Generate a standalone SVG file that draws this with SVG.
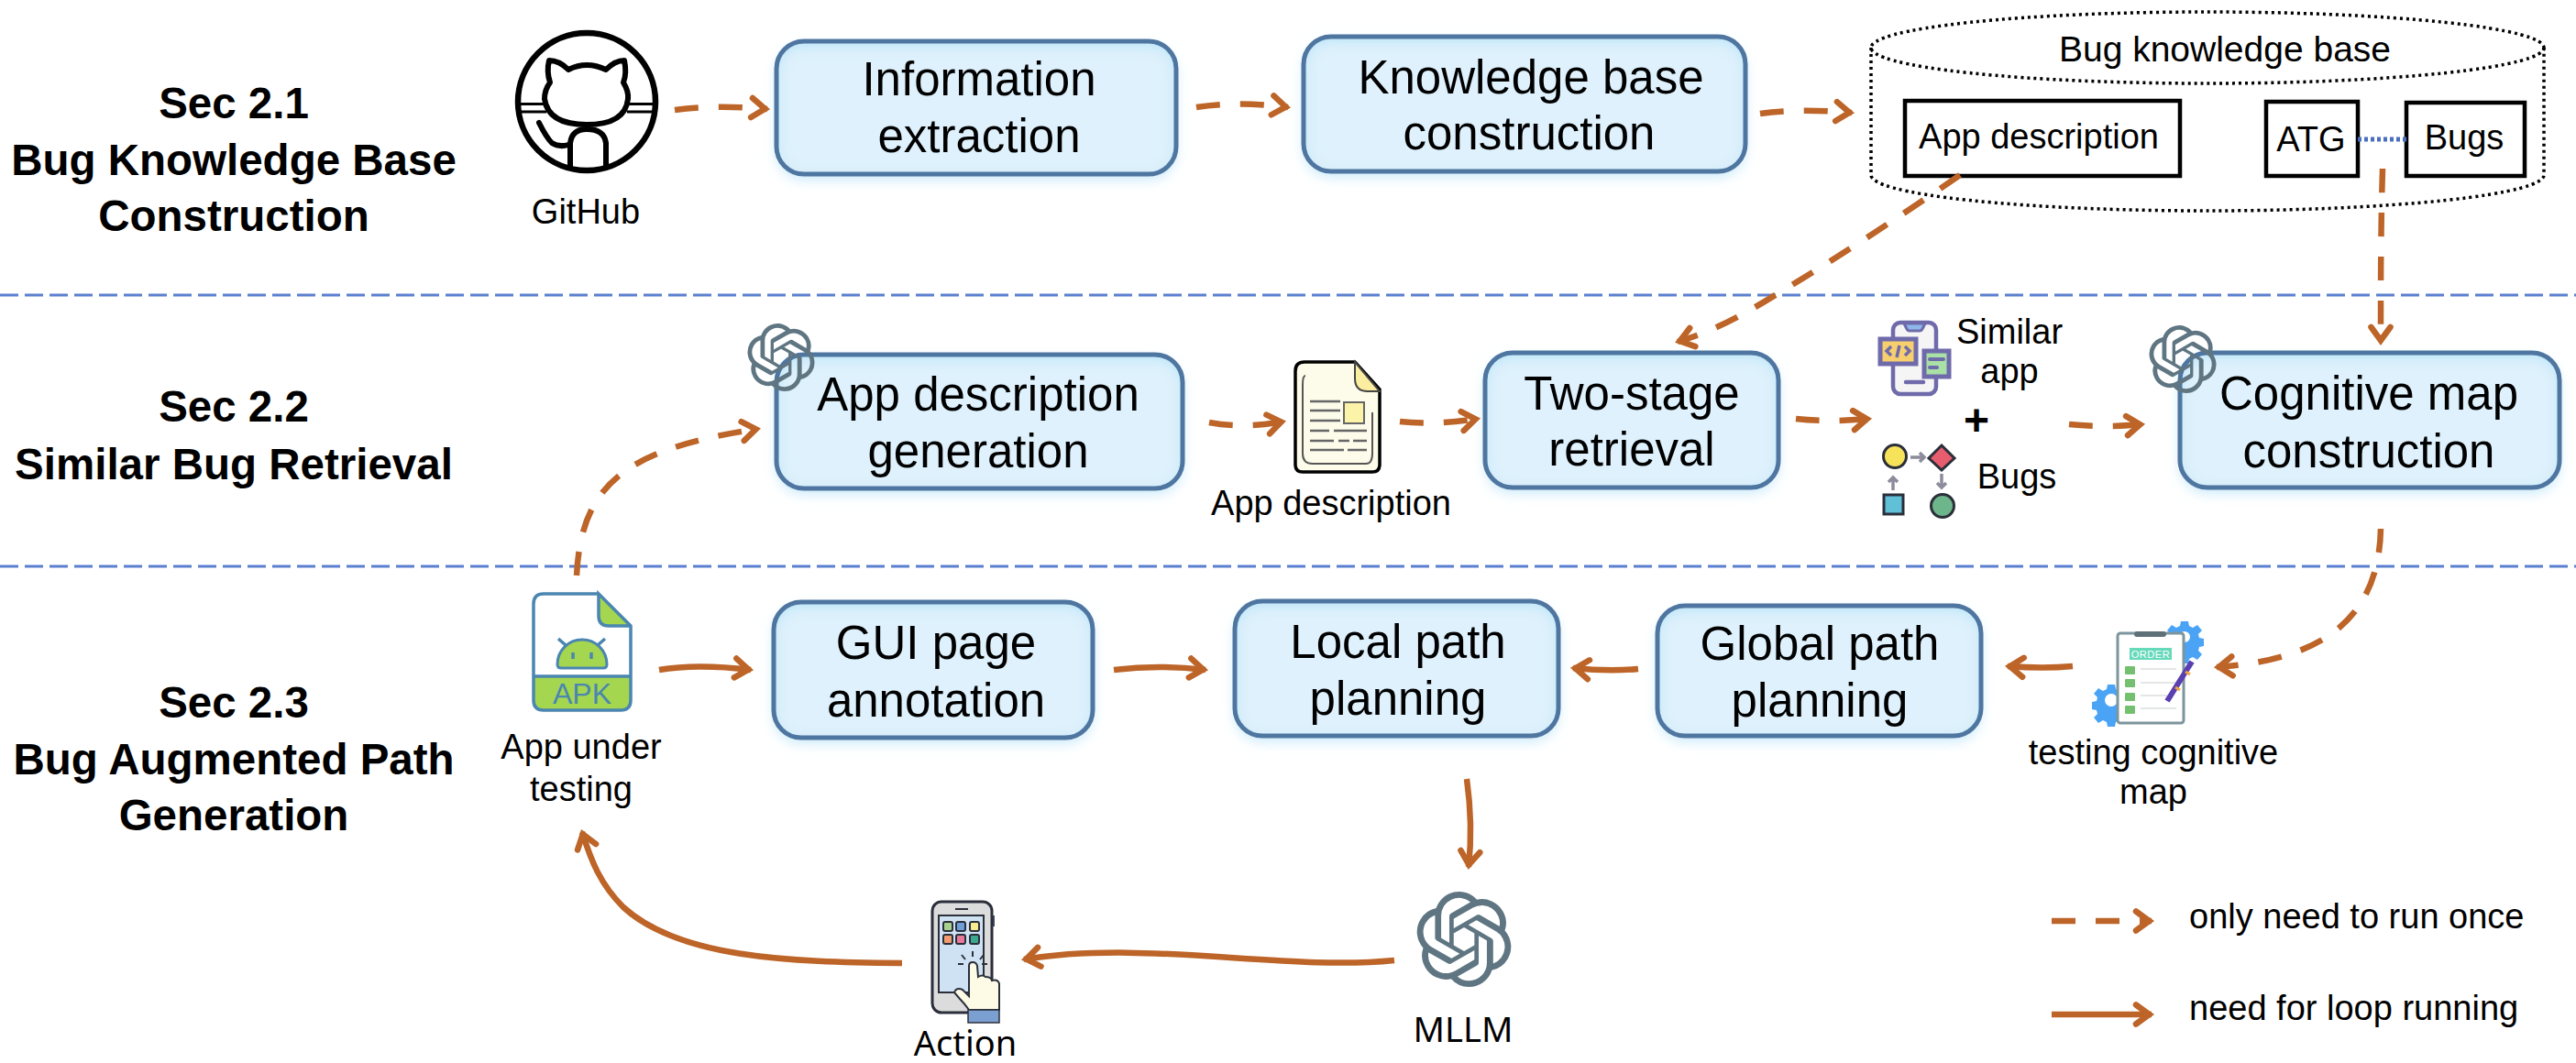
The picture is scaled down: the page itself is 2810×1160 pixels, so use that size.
<svg xmlns="http://www.w3.org/2000/svg" width="2810" height="1160" viewBox="0 0 2810 1160">
<style>
text{font-family:"Liberation Sans",Arial,sans-serif;fill:#000;text-anchor:middle}
.sec{font-size:47.500px;font-weight:bold}
.big{font-size:51px}
.sm{font-size:38px}
.nt{font-family:"Noto Sans",sans-serif;font-size:38px}
.leg{text-anchor:start;font-size:38px}
.bf{fill:#def1fc;filter:url(#boxfx)}
.be{fill:none;stroke:#4f76a0;stroke-width:5}
.kb{fill:#fff;stroke:#000;stroke-width:4.500}
.cyl{fill:none;stroke:#000;stroke-width:3.500;stroke-dasharray:3 4}
.div{stroke:#5b7fd0;stroke-width:3;stroke-dasharray:20 7;fill:none}
.d,.s{fill:none;stroke:#bd6428;stroke-width:6.500;marker-end:url(#ah)}
.d{stroke-dasharray:26 22}
.ic{fill:none;stroke:#6f6bab;stroke-width:4}
.dk{stroke:#2b2f3a;stroke-width:3}
.gr{stroke:#666;stroke-width:2.5;fill:none}
.pale{stroke:#e4e6e6;stroke-width:2;fill:none}
.apk{stroke:#4a86b0;stroke-width:3.5;fill:none}
.gh{fill:none;stroke:#000;stroke-width:6;stroke-linecap:round;stroke-linejoin:round}
</style>
<defs>
<marker id="ah" markerUnits="userSpaceOnUse" markerWidth="40" markerHeight="40" viewBox="-30 -20 40 40" refX="0" refY="0" orient="auto" overflow="visible">
<path d="M-17 -10.500L-2.500 0L-17 10.500" fill="none" stroke="#bd6428" stroke-width="6.500" stroke-linecap="round" stroke-linejoin="miter"/>
</marker>
<filter id="boxfx" x="-10%" y="-15%" width="120%" height="140%">
<feGaussianBlur in="SourceAlpha" stdDeviation="7"/><feOffset dy="6" result="o"/>
<feFlood flood-color="#bfe6f9" flood-opacity=".85"/><feComposite in2="o" operator="in" result="outer"/>
<feComponentTransfer in="SourceAlpha" result="inv"><feFuncA type="table" tableValues="1 0"/></feComponentTransfer>
<feGaussianBlur in="inv" stdDeviation="7"/><feOffset dy="4" result="ib"/>
<feFlood flood-color="#b4e3f8"/><feComposite in2="ib" operator="in"/><feComposite in2="SourceAlpha" operator="in" result="inner"/>
<feMerge><feMergeNode in="outer"/><feMergeNode in="SourceGraphic"/><feMergeNode in="inner"/></feMerge>
</filter>
<symbol id="oai" viewBox="0 0 24 24"><path fill="#5f7682" d="M22.2819 9.8211a5.9847 5.9847 0 0 0-.5157-4.9108 6.0462 6.0462 0 0 0-6.5098-2.9A6.0651 6.0651 0 0 0 4.9807 4.1818a5.9847 5.9847 0 0 0-3.9977 2.9 6.0462 6.0462 0 0 0 .7427 7.0966 5.98 5.98 0 0 0 .511 4.9107 6.051 6.051 0 0 0 6.5146 2.9001A5.9847 5.9847 0 0 0 13.2599 24a6.0557 6.0557 0 0 0 5.7718-4.2058 5.9894 5.9894 0 0 0 3.9977-2.9001 6.0557 6.0557 0 0 0-.7475-7.0729zm-9.022 12.6081a4.4755 4.4755 0 0 1-2.8764-1.0408l.1419-.0804 4.7783-2.7582a.7948.7948 0 0 0 .3927-.6813v-6.7369l2.02 1.1686a.071.071 0 0 1 .038.052v5.5826a4.504 4.504 0 0 1-4.4945 4.4944zm-9.6607-4.1254a4.4708 4.4708 0 0 1-.5346-3.0137l.142.0852 4.783 2.7582a.7712.7712 0 0 0 .7806 0l5.8428-3.3685v2.3324a.0804.0804 0 0 1-.0332.0615L9.74 19.9502a4.4992 4.4992 0 0 1-6.1408-1.6464zM2.3408 7.8956a4.485 4.485 0 0 1 2.3655-1.9728V11.6a.7664.7664 0 0 0 .3879.6765l5.8144 3.3543-2.0201 1.1685a.0757.0757 0 0 1-.071 0l-4.8303-2.7865A4.504 4.504 0 0 1 2.3408 7.872zm16.5963 3.8558L13.1038 8.364 15.1192 7.2a.0757.0757 0 0 1 .071 0l4.8303 2.7913a4.4944 4.4944 0 0 1-.6765 8.1042v-5.6772a.79.79 0 0 0-.407-.667zm2.0107-3.0231l-.142-.0852-4.7735-2.7818a.7759.7759 0 0 0-.7854 0L9.409 9.2297V6.8974a.0662.0662 0 0 1 .0284-.0615l4.8303-2.7866a4.4992 4.4992 0 0 1 6.6802 4.66zM8.3065 12.863l-2.02-1.1638a.0804.0804 0 0 1-.038-.0567V6.0742a4.4992 4.4992 0 0 1 7.3757-3.4537l-.142.0805L8.704 5.459a.7948.7948 0 0 0-.3927.6813zm1.0976-2.3654l2.602-1.4998 2.6069 1.4998v2.9994l-2.5974 1.4997-2.6067-1.4997Z"/></symbol>
<path id="gear" fill="#4aa3f5" d="M-4 -17h8l1 5 4 2 5 -3 5 6 -4 4 1 4 5 1v8l-5 1 -1 4 4 4 -5 6 -5 -3 -4 2 -1 5h-8l-1 -5 -4 -2 -5 3 -5 -6 4 -4 -1 -4 -5 -1v-8l5 -1 1 -4 -4 -4 5 -6 5 3 4 -2z"/>
</defs>

<rect width="2810" height="1160" fill="#fff"/>

<g id="dividers">
<line class="div" x1="0" y1="322" x2="2810" y2="322"/>
<line class="div" x1="0" y1="618" x2="2810" y2="618"/>
</g>

<g id="sec21"><text class="sec" x="255" y="129">Sec 2.1</text><text class="sec" x="255" y="191">Bug Knowledge Base</text><text class="sec" x="255" y="252">Construction</text></g>
<g id="sec22"><text class="sec" x="255" y="460">Sec 2.2</text><text class="sec" x="255" y="523">Similar Bug Retrieval</text></g>
<g id="sec23"><text class="sec" x="255" y="783">Sec 2.3</text><text class="sec" x="255" y="845">Bug Augmented Path</text><text class="sec" x="255" y="906">Generation</text></g>

<g id="github">
<circle cx="640" cy="111" r="75" fill="#fff" stroke="#000" stroke-width="6.500"/>
<path d="M568 113.500H594M568 122H596M685 113.500H713M684 122H713" stroke="#000" stroke-width="3"/>
<path class="gh" fill="#fff" d="M599 66Q610 66 620 76Q640 66 661 76Q671 66 681 66Q684 80 680 90Q686 100 685 108Q682 136 640 136Q598 136 594 108Q594 98 600 90Q596 78 599 66Z"/>
<path class="gh" d="M622 182V156Q624 141 640 141Q659 141 661 156V182"/>
<path class="gh" d="M588 134Q596 150 602 156Q610 161 620 158"/>
<text class="sm" x="639" y="244">GitHub</text>
</g>

<g id="info"><rect class="bf" x="847" y="45" width="436" height="145" rx="30"/><rect class="be" x="847" y="45" width="436" height="145" rx="30"/><text class="big" x="1068" y="104">Information</text><text class="big" x="1068" y="166">extraction</text></g>
<g id="kbc"><rect class="bf" x="1422" y="40" width="482" height="147" rx="30"/><rect class="be" x="1422" y="40" width="482" height="147" rx="30"/><text class="big" x="1670" y="102">Knowledge base</text><text class="big" x="1668" y="163">construction</text></g>

<g id="bugkb">
<ellipse class="cyl" cx="2408" cy="52" rx="367" ry="39"/>
<path class="cyl" d="M2041 52V191A367 39 0 0 0 2775 191V52"/>
<text x="2427" y="67" font-size="39">Bug knowledge base</text>
<rect class="kb" x="2078" y="110" width="300" height="82"/><text class="sm" x="2224" y="162">App description</text>
<rect class="kb" x="2472" y="111" width="100" height="81"/><text class="sm" x="2521" y="165">ATG</text>
<rect class="kb" x="2625" y="112" width="129" height="80"/><text class="sm" x="2688" y="163">Bugs</text>
<line x1="2572" y1="152" x2="2625" y2="152" stroke="#4a6fc0" stroke-width="5" stroke-dasharray="4 3"/>
</g>

<g id="appgen"><rect class="bf" x="847" y="387" width="443" height="146" rx="30"/><rect class="be" x="847" y="387" width="443" height="146" rx="30"/><text class="big" x="1067" y="448">App description</text><text class="big" x="1067" y="510">generation</text><use href="#oai" x="815" y="353" width="74" height="74"/></g>

<g id="doc">
<path d="M1423 395H1478L1505 425V507Q1505 515 1497 515H1421Q1413 515 1413 507V405Q1413 395 1423 395Z" fill="#fdfbea" stroke="#000" stroke-width="3.500"/>
<path d="M1478 395V413Q1478 427 1492 427H1505Z" fill="#fbeea0" stroke="#444" stroke-width="2"/>
<path d="M1424 410Q1421 410 1421 420V495Q1421 506 1432 506H1490Q1497 506 1497 495V450" fill="none" stroke="#555" stroke-width="2"/>
<rect x="1466" y="439" width="22" height="23" fill="#fbf3a8" stroke="#666" stroke-width="2"/>
<path class="gr" d="M1429 438H1462M1429 448H1462M1429 459H1462M1429 470H1450M1455 470H1491M1429 481H1455M1460 481H1472M1476 481H1491M1429 491H1466M1470 491H1491"/>
<text class="sm" x="1452" y="562">App description</text>
</g>

<g id="retrieval"><rect class="bf" x="1620" y="385" width="320" height="147" rx="30"/><rect class="be" x="1620" y="385" width="320" height="147" rx="30"/><text class="big" x="1780" y="447">Two-stage</text><text class="big" x="1780" y="508">retrieval</text></g>

<g id="similar">
<rect x="2065" y="352" width="47" height="78" rx="8" fill="#f6f5f5" stroke="#6f6bab" stroke-width="4.500"/>
<path d="M2077 353h23l-3 6q-1 2 -3 2h-11q-2 0 -3 -2z" fill="#8fb8ea" stroke="#6f6bab" stroke-width="3"/>
<line x1="2079" y1="417" x2="2098" y2="417" stroke="#6f6bab" stroke-width="4.500" stroke-linecap="round"/>
<rect x="2051" y="370" width="39" height="27" fill="#f7cf6e" stroke="#6f6bab" stroke-width="5"/>
<path d="M2063 378l-5 5 5 5M2078 378l5 5 -5 5M2072 377l-3 13" fill="none" stroke="#6f6bab" stroke-width="3.500"/>
<rect x="2099" y="383" width="27" height="28" fill="#a9e0a6" stroke="#6f6bab" stroke-width="5"/>
<path d="M2105 392H2120M2105 401H2113" stroke="#6f6bab" stroke-width="4" stroke-linecap="round"/>
<text class="sm" x="2192" y="375">Similar</text><text class="sm" x="2192" y="418">app</text>
<text x="2156" y="475" font-size="48" font-weight="bold">+</text>
<circle class="dk" cx="2067" cy="498" r="12.500" fill="#f7e35a"/>
<path class="dk" d="M2118 486L2132 500L2118 513L2104 500Z" fill="#e85d6e"/>
<rect class="dk" x="2055" y="540" width="21" height="21" fill="#5fc0d8"/>
<circle class="dk" cx="2119" cy="552" r="12.500" fill="#6db58b"/>
<path d="M2084 499H2098M2094 494l5 5 -5 5M2065 535V521M2060 526l5 -5 5 5M2118 517V531M2113 527l5 5 5 -5" fill="none" stroke="#8c8c9c" stroke-width="3.500"/>
<text class="sm" x="2200" y="533">Bugs</text>
</g>

<g id="cogmap"><rect class="bf" x="2378" y="385" width="414" height="147" rx="30"/><rect class="be" x="2378" y="385" width="414" height="147" rx="30"/><text class="big" x="2584" y="447">Cognitive map</text><text class="big" x="2584" y="510">construction</text><use href="#oai" x="2344" y="355" width="74" height="74"/></g>

<g id="apk">
<path d="M582 738V764Q582 775 593 775H677Q688 775 688 764V738Z" fill="#a5d64f"/>
<path d="M653 648V672Q653 683 664 683H688Z" fill="#a5d64f"/>
<path class="apk" d="M653 648H593Q582 648 582 659V764Q582 775 593 775H677Q688 775 688 764V683L653 648V672Q653 683 664 683H688M582 738H688"/>
<path d="M608 725a27 27 0 0 1 54 0q0 4 -4 4h-46q-4 0 -4 -4z" fill="#a5d64f" stroke="#4a86b0" stroke-width="3"/>
<path class="apk" d="M609 697l8 7M660 697l-8 7M625 712v7M645 712v7"/>
<text x="635" y="768" font-size="32" style="fill:#4a86b0">APK</text>
<text class="sm" x="634" y="828">App under</text><text class="sm" x="634" y="874">testing</text>
</g>

<g id="gui"><rect class="bf" x="844" y="657" width="348" height="148" rx="30"/><rect class="be" x="844" y="657" width="348" height="148" rx="30"/><text class="big" x="1021" y="719">GUI page</text><text class="big" x="1021" y="782">annotation</text></g>
<g id="local"><rect class="bf" x="1347" y="656" width="353" height="147" rx="30"/><rect class="be" x="1347" y="656" width="353" height="147" rx="30"/><text class="big" x="1525" y="718">Local path</text><text class="big" x="1525" y="780">planning</text></g>
<g id="global"><rect class="bf" x="1808" y="661" width="353" height="142" rx="30"/><rect class="be" x="1808" y="661" width="353" height="142" rx="30"/><text class="big" x="1985" y="720">Global path</text><text class="big" x="1985" y="782">planning</text></g>

<g id="testmap">
<use href="#gear" transform="translate(2383,695)"/>
<use href="#gear" transform="translate(2303,764)"/>
<circle cx="2383" cy="695" r="6" fill="#fff"/><circle cx="2303" cy="764" r="7" fill="#fff"/>
<rect x="2310" y="691" width="72" height="98" rx="3" fill="#fff" stroke="#7d959d" stroke-width="3"/>
<rect x="2328" y="689" width="35" height="6" rx="3" fill="#5f7178"/>
<rect x="2323" y="707" width="46" height="13" fill="#66d9bb"/>
<text x="2346" y="718" font-size="11" style="fill:#fff;letter-spacing:.6px">ORDER</text>
<g fill="#74c070"><rect x="2318" y="727" width="11" height="9" rx="1"/><rect x="2318" y="741" width="11" height="9" rx="1"/><rect x="2318" y="756" width="11" height="9" rx="1"/><rect x="2318" y="770" width="11" height="9" rx="1"/></g>
<path class="pale" d="M2335 730H2374M2335 745H2374M2335 759H2364M2335 773H2374"/>
<line x1="2364" y1="765" x2="2391" y2="722" stroke="#5a3fb0" stroke-width="6"/>
<path d="M2373 750l5 3M2384 733l5 3" stroke="#f2a63a" stroke-width="3"/>
<text class="sm" x="2349" y="834">testing cognitive</text><text class="sm" x="2349" y="877">map</text>
</g>

<g id="mllm"><use href="#oai" x="1545" y="973" width="104" height="104"/><text class="nt" x="1596" y="1137">MLLM</text></g>

<g id="action">
<rect x="1082" y="999" width="3" height="12" fill="#44506a"/>
<rect x="1017" y="984" width="65" height="121" rx="10" fill="#dcdcdc" stroke="#2b2f3a" stroke-width="3"/>
<rect x="1024" y="999" width="49" height="84" fill="#cfe2f3" stroke="#2b2f3a" stroke-width="2"/>
<line x1="1042" y1="992" x2="1056" y2="992" stroke="#2b2f3a" stroke-width="2"/>
<g class="dk" style="stroke-width:2"><rect x="1029" y="1006" width="10" height="10" rx="2" fill="#a9d18e"/><rect x="1043" y="1006" width="10" height="10" rx="2" fill="#6f9fd8"/><rect x="1058" y="1006" width="10" height="10" rx="2" fill="#f9ec8e"/><rect x="1029" y="1020" width="10" height="10" rx="2" fill="#f19b6e"/><rect x="1043" y="1020" width="10" height="10" rx="2" fill="#e9799a"/><rect x="1058" y="1020" width="10" height="10" rx="2" fill="#3aa88e"/></g>
<path d="M1061 1038V1044M1049 1042l4 5M1073 1042l-4 5M1045 1052h6M1071 1052h6" stroke="#2b2f3a" stroke-width="2"/>
<path d="M1057 1054Q1057 1050 1061 1050Q1065 1050 1066 1054L1067 1066Q1072 1063 1075 1066Q1081 1066 1082 1070Q1088 1068 1090 1073V1102H1057Q1052 1095 1047 1090L1041 1083Q1043 1077 1050 1080L1057 1087Z" fill="#fdfbe6" stroke="#2b2f3a" stroke-width="2"/>
<rect x="1056" y="1102" width="34" height="14" fill="#7b9fd0" stroke="#2b2f3a" stroke-width="1.500"/>
<text class="nt" x="1053" y="1152">Action</text>
</g>

<g id="legend">
<text class="leg" x="2388" y="1013">only need to run once</text>
<text class="leg" x="2388" y="1113">need for loop running</text>
</g>

<g id="connectors">
<path class="d" d="M736 120Q780 114 837 119"/>
<path class="d" d="M1305 117Q1350 110 1405 117"/>
<path class="d" d="M1920 124Q1960 118 2020 123"/>
<path class="d" d="M2138 191C2060 245 1990 290 1953 312C1915 335 1880 358 1830 373"/>
<path class="d" d="M2599 184C2597 250 2597 310 2597 374"/>
<path class="d" d="M629 628C634 530 680 490 827 468"/>
<path class="d" d="M1319 461Q1355 468 1400 460"/>
<path class="d" d="M1527 460Q1565 464 1612 457"/>
<path class="d" d="M1959 457Q1995 461 2039 457"/>
<path class="d" d="M2257 463Q2295 467 2337 463"/>
<path class="d" d="M2597 577C2595 670 2540 720 2418 728"/>
<path class="s" d="M719 731Q760 724 819 731"/>
<path class="s" d="M1215 731Q1265 725 1315 731"/>
<path class="s" d="M1787 730Q1755 733 1716 729"/>
<path class="s" d="M2261 727Q2230 730 2190 727"/>
<path class="s" d="M1600 850Q1607 900 1602 946"/>
<path class="s" d="M1521 1048C1400 1060 1250 1025 1117 1047"/>
<path class="s" d="M984 1051C860 1050 740 1045 680 990C655 965 645 940 635 908"/>
<path class="d" d="M2238 1005H2347"/>
<path class="s" d="M2238 1107H2347"/>
</g>
</svg>
